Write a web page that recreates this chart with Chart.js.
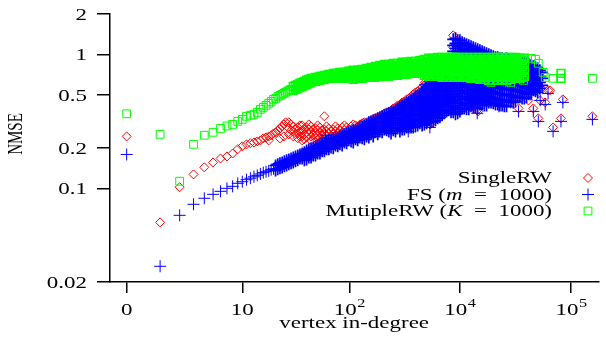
<!DOCTYPE html>
<html>
<head>
<meta charset="utf-8">
<script src="https://cdn.jsdelivr.net/npm/chart.js@4.4.1/dist/chart.umd.min.js"></script>
<style>
  html,body{margin:0;padding:0;background:#fff;}
  canvas{display:block;}
</style>
</head>
<body>
<canvas id="c" width="606" height="344"></canvas>
<script>
// x values are log10(1 + in-degree), y values are NMSE
// each row: [x, nmse, nmse, ...]

let xTickValues=[0, 1.041, 2.004, 3, 4];
let xTickLabels=["0", "10", "10^2", "10^4", "10^5"];
let yTickValues=[0.02, 0.1, 0.2, 0.5, 1, 2];
let yTickLabels=["0.02", "0.1", "0.2", "0.5", "1", "2"];
let xTitle="vertex in-degree";
let yTitle="NMSE";
// legend names, [text, italic]
let legendNames=[
  [["SingleRW",0]],
  [["FS (",0],["m",1],["\u2002=\u20021000)",0]],
  [["MutipleRW (",0],["K",1],["\u2002=\u20021000)",0]]
];

let singleRW=[
  [0,.244],[0.301,.0557],[0.477,.102],[0.602,.127],[0.699,.1435],[0.778,.156],
  [0.845,.167],[0.903,.173],[0.954,.182],[1.0,.196],[1.041,.206],[1.079,.213],
  [1.114,.217],[1.146,.220],[1.176,.224],[1.204,.228],[1.23,.236],[1.255,.240],
  [1.279,.244,.228],[1.301,.249],[1.322,.257],[1.342,.262],[1.362,.271],[1.38,.280,.236],
  [1.398,.290],[1.415,.300,.244],[1.431,.311],
  [1.46,.311,.280,.253],[1.50,.290,.266,.244],[1.54,.285,.257,.236],[1.58,.295,.271,.244,.228],
  [1.62,.285,.262,.240],[1.66,.290,.266,.244,.228],[1.70,.280,.257,.236],[1.74,.285,.262,.240,.224],
  [1.78,.345,.275,.253,.232],[1.82,.280,.257,.236],[1.86,.275,.253,.232],[1.90,.280,.257,.236],
  [1.94,.285,.262,.240],[1.98,.285,.262,.240],[2.02,.290,.266,.244],[2.06,.295,.271,.249],
  [2.10,.300,.275,.253],[2.14,.311,.285,.262],[2.18,.316,.290,.266],[2.22,.327,.300,.275],
  [2.26,.339,.311,.285],[2.30,.351,.322,.295],[2.34,.369,.339,.311],[2.38,.382,.351,.322],
  [2.42,.402,.369,.339],[2.46,.423,.389,.357],[2.50,.445,.409,.375],[2.54,.469,.431,.395],
  [2.58,.503,.461,.423],[2.62,.530,.486,.445],[2.66,.567,.520,.478],[2.70,.608,.557,.511],
  [2.74,.640,.587,.539],[2.78,.673,.618,.567],[2.82,.721,.662,.608],[2.86,.760,.697,.640],
  [2.90,.800,.734,.673],[2.94,1.386,1.128,.842,.760,.685],
  [1.48,.300,.271],[1.52,.280,.253],[1.56,.295,.266,.244],[1.60,.280,.253,.232],
  [1.64,.300,.275,.253],[1.68,.275,.249],[1.72,.295,.271,.244],[1.76,.271,.249,.228],
  [1.80,.290,.266,.244],[1.84,.266,.244],[1.88,.290,.266,.244],[1.92,.271,.249],
  [1.96,.295,.271,.249],[2.00,.275,.253],[2.04,.300,.275,.253],[2.08,.285,.262],
  [2.12,.306,.280],[2.16,.311,.285],[2.20,.322,.295],[2.24,.333,.306],[2.28,.345,.316],
  [2.32,.363,.333],[2.36,.375,.345],[2.40,.395,.363],[2.44,.416,.382],[2.48,.438,.402],
  [2.52,.461,.423],[2.56,.486,.445],[2.60,.520,.478],[2.64,.548,.503],[2.68,.587,.539],
  [2.72,.629,.577],[2.76,.662,.608],[2.80,.697,.640],[2.84,.747,.685],[2.88,.786,.721],
  [2.92,.828,.760],
  [2.172,.300],[2.358,.369],[2.473,.423],[2.535,.280],[2.686,.618],[2.73,.300],
  [3.156,.382],[3.165,.375],[3.351,.431],[3.457,.461],[3.484,.453],[3.528,.395],
  [3.617,.453],[3.661,.395],[3.706,.333],[3.723,.453],[3.732,.557],[3.768,.438],
  [3.794,.539],[3.812,.539],[3.839,.285],[3.91,.333],[3.927,.461],[4.193,.345]
];

let fsM1000=[
  [0,.179],[0.301,.0262],[0.477,.0629],[0.602,.076],[0.699,.0843],[0.778,.0902],
  [0.845,.095],[0.903,.100],[0.954,.1035],[1.0,.109],[1.041,.112],[1.079,.116],
  [1.114,.119],[1.146,.122],[1.176,.125],[1.204,.128],[1.23,.131],[1.255,.133],
  [1.279,.135],[1.301,.138],[1.322,.140],
  [1.34,.148,.136],[1.38,.154,.141],[1.42,.159,.146],[1.46,.164,.151],[1.50,.170,.156],
  [1.54,.176,.162],[1.58,.182,.167],[1.62,.192,.176,.164],[1.66,.199,.182,.170],
  [1.70,.206,.189,.176],[1.74,.213,.196,.182],[1.78,.220,.202,.189],[1.82,.228,.209,.196],
  [1.86,.236,.217,.199],[1.90,.240,.220,.206],[1.94,.249,.228,.209],[1.98,.257,.236,.217],
  [2.02,.266,.244,.224],[2.06,.275,.253,.232],[2.10,.285,.262,.240],
  [2.14,.295,.271,.249,.232],[2.18,.311,.285,.262,.240],[2.22,.322,.295,.271,.244],
  [2.26,.333,.306,.280,.253],[2.30,.345,.316,.290,.262],[2.34,.357,.327,.300,.271],
  [2.38,.369,.339,.311,.280,.257],[2.42,.382,.351,.322,.295,.266],
  [2.46,.402,.369,.339,.311,.285,.266],[2.50,.423,.389,.357,.327,.300,.275],
  [2.54,.445,.409,.375,.345,.316,.285],[2.58,.469,.431,.395,.363,.333,.306,.285],
  [2.62,.494,.453,.416,.382,.351,.322,.295],
  [2.66,.530,.486,.445,.409,.375,.345,.316,.295],
  [2.70,.567,.520,.478,.438,.402,.369,.339,.306],
  [2.74,.608,.557,.511,.469,.431,.395,.363,.333,.311],
  [2.78,.651,.597,.548,.503,.461,.423,.389,.357,.322],
  [2.82,.697,.640,.587,.539,.494,.453,.416,.382,.339],
  [2.86,.734,.673,.618,.567,.520,.478,.438,.402,.363],
  [2.90,.786,.721,.662,.608,.557,.511,.469,.431,.382],
  [2.94,1.294,1.167,1.053,.950,.842,.760,.685,.618,.557,.503,.453,.409,.369],
  [2.98,1.272,1.147,1.035,.934,.828,.734,.662,.597,.539,.486,.438,.395,.363],
  [3.02,1.229,1.109,1.0,.902,.814,.734,.662,.597,.539,.486,.438,.395],
  [3.06,1.188,1.071,.966,.872,.786,.709,.640,.577,.520,.469,.423,.389],
  [3.10,1.147,1.035,.934,.842,.760,.685,.618,.557,.503,.453,.409],
  [3.14,1.109,1.0,.902,.814,.734,.662,.597,.539,.486,.438,.402],
  [3.18,1.071,.966,.872,.786,.709,.640,.577,.520,.469,.423],
  [3.22,1.035,.934,.842,.760,.685,.618,.557,.503,.453,.416],
  [3.26,1.0,.902,.814,.734,.662,.597,.539,.486,.438],
  [3.30,.966,.872,.786,.709,.640,.577,.520,.469,.431],
  [3.34,.950,.857,.773,.697,.629,.567,.511,.461,.423],
  [3.38,.934,.842,.760,.685,.618,.557,.503,.453,.416],
  [3.42,.934,.842,.760,.685,.618,.557,.503,.453,.409],
  [3.46,.918,.828,.747,.673,.608,.548,.494,.445],
  [3.50,.902,.814,.734,.662,.597,.539,.486,.445],
  [3.54,.887,.800,.721,.651,.587,.530,.478],
  [3.58,.872,.786,.709,.640,.577,.520,.469],
  [3.62,.842,.760,.685,.618,.557,.503],
  [3.66,.814,.734,.662,.597,.539],
  [3.70,.786,.709,.640,.577,.520],
  [3.74,.734,.662,.587],
  [1.36,.151,.139],[1.40,.156,.143],[1.44,.162,.148],[1.48,.167,.154],[1.52,.173,.159],
  [1.56,.179,.167],[1.60,.186,.173,.162],[1.64,.196,.182,.170],[1.68,.202,.189,.176],
  [1.72,.209,.196,.182],[1.76,.217,.202,.189],[1.80,.224,.209,.196],[1.84,.232,.217,.202],
  [1.88,.240,.224,.209],[1.92,.244,.228,.213],[1.96,.253,.236,.220],[2.00,.262,.244,.228],
  [2.04,.271,.253,.236,.220],[2.08,.280,.262,.244,.228],[2.12,.290,.271,.253,.236],
  [2.16,.300,.280,.262,.244],[2.20,.316,.295,.275,.253],[2.24,.327,.306,.285,.262],
  [2.28,.339,.316,.290,.266],[2.32,.351,.327,.300,.275],[2.36,.363,.339,.311,.285,.266],
  [2.40,.375,.351,.322,.295,.271],[2.44,.395,.363,.333,.306,.280],
  [2.48,.416,.382,.351,.322,.295,.275],[2.52,.438,.402,.369,.339,.311,.285],
  [2.56,.461,.423,.389,.357,.327,.300,.285],[2.60,.486,.445,.409,.375,.345,.316,.290],
  [2.64,.511,.469,.431,.395,.363,.333,.306],
  [2.68,.548,.503,.461,.423,.389,.357,.327,.300],
  [2.72,.587,.539,.494,.453,.416,.382,.351,.322],
  [2.76,.629,.577,.530,.486,.445,.409,.375,.345,.316],
  [2.80,.673,.618,.567,.520,.478,.438,.402,.369,.333],
  [2.84,.709,.651,.597,.548,.503,.461,.423,.389,.351],
  [2.88,.760,.697,.640,.587,.539,.494,.453,.416,.375],
  [2.92,.814,.747,.685,.629,.577,.530,.486,.445,.402,.369],
  [2.96,1.316,1.208,1.109,1.0,.887,.800,.721,.651,.587,.530,.478,.431,.389,.357],
  [3.00,1.272,1.167,1.053,.950,.857,.773,.697,.629,.567,.511,.461,.416,.375],
  [3.04,1.208,1.090,.983,.887,.800,.721,.651,.587,.530,.478,.431,.395],
  [3.08,1.167,1.053,.950,.857,.773,.697,.629,.567,.511,.461,.416,.389],
  [3.12,1.128,1.017,.918,.828,.747,.673,.608,.548,.494,.445,.402],
  [3.16,1.090,.983,.887,.800,.721,.651,.587,.530,.478,.431,.395],
  [3.20,1.053,.950,.857,.773,.697,.629,.567,.511,.461,.423],
  [3.24,1.017,.918,.828,.747,.673,.608,.548,.494,.445,.416],
  [3.28,.983,.887,.800,.721,.651,.587,.530,.478,.438],
  [3.32,.950,.857,.773,.697,.629,.567,.511,.461,.423],
  [3.36,.934,.842,.760,.685,.618,.557,.503,.453,.416],
  [3.40,.918,.828,.747,.673,.608,.548,.494,.445,.409],
  [3.44,.918,.828,.747,.673,.608,.548,.494,.445],
  [3.48,.902,.814,.734,.662,.597,.539,.486,.438],
  [3.52,.887,.800,.721,.651,.587,.530,.478],
  [3.56,.872,.786,.709,.640,.577,.520,.469],
  [3.60,.857,.773,.697,.629,.567,.511,.478],
  [3.64,.828,.747,.673,.608,.548,.503],
  [3.68,.800,.721,.651,.587,.530],
  [3.72,.760,.685,.618,.557],
  [1.79,.249],[2.172,.290],[2.358,.357],[2.473,.409],[2.535,.266],[2.686,.597],[2.73,.285],
  [3.156,.363],[3.351,.409],[3.457,.438],[3.528,.375],[3.661,.375],[3.706,.316],
  [3.839,.266],[3.927,.438],[3.91,.316],[4.193,.327],[3.794,.511],[3.768,.423],[3.723,.453]
];

let multipleRW=[
  [0,.36],[0.301,.253],[0.477,.113],[0.602,.213],[0.699,.249],[0.778,.262],
  [0.845,.280],[0.903,.292],[0.954,.300],[1.0,.316],[1.041,.327],[1.079,.345],
  [1.114,.351],[1.146,.357],[1.176,.369],[1.204,.389],[1.23,.402],[1.255,.416],
  [1.279,.431],[1.301,.445],[1.322,.461],[1.342,.469],[1.362,.486],[1.38,.494],
  [1.398,.503],[1.415,.511],[1.431,.520],[1.447,.530],[1.462,.539],[1.477,.548],
  [1.50,.577,.539],[1.54,.597,.557],[1.58,.618,.577],[1.62,.640,.597],[1.66,.662,.618],
  [1.70,.673,.629],[1.74,.685,.640],[1.78,.697,.651],[1.82,.709,.662],[1.86,.721,.662],
  [1.90,.721,.673],[1.94,.734,.673],[1.98,.734,.685],[2.02,.747,.685],
  [2.06,.747,.697,.662],[2.10,.760,.709,.673],[2.14,.760,.721,.673],[2.18,.773,.734,.685],
  [2.22,.786,.734,.685],[2.26,.800,.747,.697],[2.30,.800,.747,.697],[2.34,.814,.760,.709],
  [2.38,.814,.760,.709],[2.42,.828,.773,.709],[2.46,.828,.773,.721],[2.50,.842,.786,.721],
  [2.54,.842,.786,.734],[2.58,.857,.800,.734],[2.62,.857,.800,.734],[2.66,.872,.814,.747],
  [2.70,.887,.828,.760,.709],[2.74,.902,.828,.760,.709],[2.78,.902,.842,.773,.709],
  [2.82,.918,.842,.773,.697],[2.86,.934,.857,.773,.697],[2.90,.934,.857,.786,.697],
  [2.94,.950,.872,.786,.697],[2.98,.950,.872,.786,.685],[3.02,.950,.872,.786,.685],
  [3.06,.950,.872,.786,.685],[3.10,.950,.872,.786,.709,.662],[3.14,.950,.872,.786,.709,.662],
  [3.18,.950,.872,.786,.709,.651],[3.22,.950,.872,.786,.709,.651],[3.26,.950,.872,.786,.709,.640],
  [3.30,.950,.872,.786,.709,.640],[3.34,.950,.872,.786,.709,.640],[3.38,.950,.872,.786,.709,.651],
  [3.42,.950,.872,.786,.709,.640],[3.46,.950,.872,.786,.709,.651],[3.50,.950,.872,.786,.709,.662],
  [3.54,.934,.857,.786,.709,.662],[3.58,.934,.842,.760,.685],
  [1.52,.587,.548],[1.56,.608,.567],[1.60,.629,.587],[1.64,.651,.608],[1.68,.662,.629],
  [1.72,.673,.640],[1.76,.685,.651],[1.80,.697,.662],[1.84,.709,.673],[1.88,.721,.685],
  [1.92,.734,.697,.662],[1.96,.734,.697,.662],[2.00,.747,.709,.673],[2.04,.760,.721,.685,.651],
  [2.08,.760,.721,.685],[2.12,.773,.734,.697,.662],[2.16,.786,.747,.709,.673],
  [2.20,.800,.760,.709,.673],[2.24,.814,.773,.721,.673],[2.28,.828,.773,.721,.685],
  [2.32,.842,.786,.734,.685],[2.36,.842,.786,.734,.685],[2.40,.857,.800,.747,.697],
  [2.44,.857,.800,.747,.697],[2.48,.872,.814,.760,.709],[2.52,.872,.814,.760,.709],
  [2.56,.887,.828,.773,.721],[2.60,.887,.828,.773,.721],[2.64,.902,.842,.786,.734],
  [2.68,.918,.857,.800,.747,.697],[2.72,.934,.872,.800,.734,.685],[2.76,.934,.872,.814,.747,.685],
  [2.80,.950,.887,.814,.747,.685],[2.84,.950,.902,.828,.747,.673],[2.88,.950,.902,.828,.747,.673],
  [2.92,.950,.918,.842,.760,.673],[2.96,.950,.902,.828,.747,.673],
  [3.00,.918,.828,.747,.673],[3.04,.918,.828,.747,.673],[3.08,.918,.828,.747,.673],
  [3.12,.918,.828,.747,.673],[3.16,.918,.828,.747,.673],[3.20,.918,.828,.747,.673],
  [3.24,.918,.828,.747,.673],[3.28,.918,.828,.747,.673],[3.32,.918,.828,.747,.673],
  [3.36,.918,.828,.747,.673],[3.40,.918,.828,.747,.673],[3.44,.918,.828,.747,.673],
  [3.48,.918,.828,.747,.673],[3.52,.918,.828,.747,.673],[3.56,.902,.814,.734,.673],
  [3.28,.618],[3.457,.618],[3.573,.640],[3.644,.934],[3.68,.918],[3.706,.857],
  [3.75,.734],[3.768,.673],[3.839,.662],[3.91,.721,.662],[4.193,.662]
];

// rows with several values belong to the dense clouds
function toPoints(rows){
  let pts=[];
  rows.forEach(r=>{
    for(let i=1;i<r.length;i++) pts.push({x:r[0], y:r[i], dense:r.length>2});
  });
  return pts;
}

const SX=1.35; // reference text is drawn wide
const FONT='"Liberation Serif", "DejaVu Serif", serif';

function wideText(ctx, s, x, y, align, font){
  ctx.save();
  ctx.font=font;
  ctx.translate(x,y);
  ctx.scale(SX,1);
  ctx.textAlign=align;
  ctx.textBaseline="alphabetic";
  ctx.fillText(s,0,0);
  ctx.restore();
}
function textW(ctx, s, font){
  ctx.save(); ctx.font=font;
  let w=ctx.measureText(s).width*SX;
  ctx.restore();
  return w;
}

let markerStyles=[
  {pointStyle:"rectRot", radius:4.5, color:"#ff0000", denseWidth:1},
  {pointStyle:"cross", radius:6, color:"#0000ff", denseWidth:1.7},
  {pointStyle:"rect", radius:5.5, color:"#00ff00", denseWidth:1.6}
];

const textPlugin={
  id:"texts",
  afterDraw(chart){
    let ctx=chart.ctx;
    let xs=chart.scales.x, ys=chart.scales.y;
    let big="17px "+FONT, small="12px "+FONT, ital="italic 17px "+FONT;
    ctx.save();
    ctx.fillStyle="#000";

    // y tick labels
    yTickValues.forEach((v,i)=>{
      let py=ys.getPixelForValue(v);
      wideText(ctx, yTickLabels[i], 87, py+6, "right", big);
    });

    // x tick labels (with exponent)
    xTickValues.forEach((v,i)=>{
      let px=xs.getPixelForValue(v);
      let parts=xTickLabels[i].split("^");
      let wb=textW(ctx, parts[0], big);
      let we=parts[1] ? textW(ctx, parts[1], small) : 0;
      let left=px-(wb+we)/2;
      wideText(ctx, parts[0], left, 315, "left", big);
      if(parts[1]) wideText(ctx, parts[1], left+wb+0.5, 307, "left", small);
    });

    // axis titles
    wideText(ctx, xTitle, (chart.chartArea.left+chart.chartArea.right)/2, 328, "center", big);
    ctx.save();
    ctx.translate(17,134);
    ctx.rotate(-Math.PI/2);
    ctx.scale(1,SX);
    ctx.font="15px "+FONT;
    ctx.textAlign="center";
    ctx.textBaseline="middle";
    ctx.fillText(yTitle,0,0);
    ctx.restore();

    // legend
    let baseY=[183,199.5,216];
    legendNames.forEach((parts,i)=>{
      let total=0;
      parts.forEach(p=>{ total+=textW(ctx, p[0], p[1]?ital:big); });
      let x=552-total;
      parts.forEach(p=>{
        let f=p[1]?ital:big;
        wideText(ctx, p[0], x, baseY[i], "left", f);
        x+=textW(ctx, p[0], f);
      });
      let m=markerStyles[i];
      ctx.save();
      ctx.strokeStyle=m.color;
      ctx.fillStyle="rgba(0,0,0,0)";
      ctx.lineWidth=1;
      Chart.helpers.drawPoint(ctx, {pointStyle:m.pointStyle, radius:m.radius, rotation:0, borderWidth:1}, 588, baseY[i]-5);
      ctx.restore();
    });
    ctx.restore();
  }
};

function ds(rows, i, order){
  let m=markerStyles[i];
  return {
    data: toPoints(rows),
    pointStyle: m.pointStyle,
    pointRadius: m.radius,
    pointBorderColor: m.color,
    pointBackgroundColor: "rgba(0,0,0,0)",
    pointBorderWidth: c => (c.raw && c.raw.dense) ? m.denseWidth : 1,
    borderColor: m.color,
    showLine: false,
    order: order
  };
}

new Chart(document.getElementById("c"), {
  type: "scatter",
  data: {
    datasets: [
      ds(multipleRW, 2, 0),
      ds(fsM1000, 1, 1),
      ds(singleRW, 0, 2)
    ]
  },
  options: {
    responsive: false,
    devicePixelRatio: 1,
    animation: false,
    events: [],
    layout: {padding: {left: 0, right: 0, top: 14, bottom: 0}},
    plugins: {legend: {display: false}, tooltip: {enabled: false}},
    scales: {
      x: {
        type: "linear",
        min: -0.15,
        max: 4.246,
        afterBuildTicks: s => { s.ticks = xTickValues.map(v => ({value: v})); },
        afterFit: s => { s.height = 62; },
        ticks: {display: false},
        grid: {display: true, drawOnChartArea: false, drawTicks: true, tickLength: 11, color: "#000", lineWidth: 1.5},
        border: {display: true, color: "#000", width: 1.5}
      },
      y: {
        type: "logarithmic",
        min: 0.02,
        max: 2,
        afterBuildTicks: s => { s.ticks = yTickValues.map(v => ({value: v})); },
        afterFit: s => { s.width = 110; },
        ticks: {display: false},
        grid: {display: true, drawOnChartArea: false, drawTicks: true, tickLength: 13, color: "#000", lineWidth: 1.5},
        border: {display: true, color: "#000", width: 1.5}
      }
    }
  },
  plugins: [textPlugin]
});
</script>
</body>
</html>
